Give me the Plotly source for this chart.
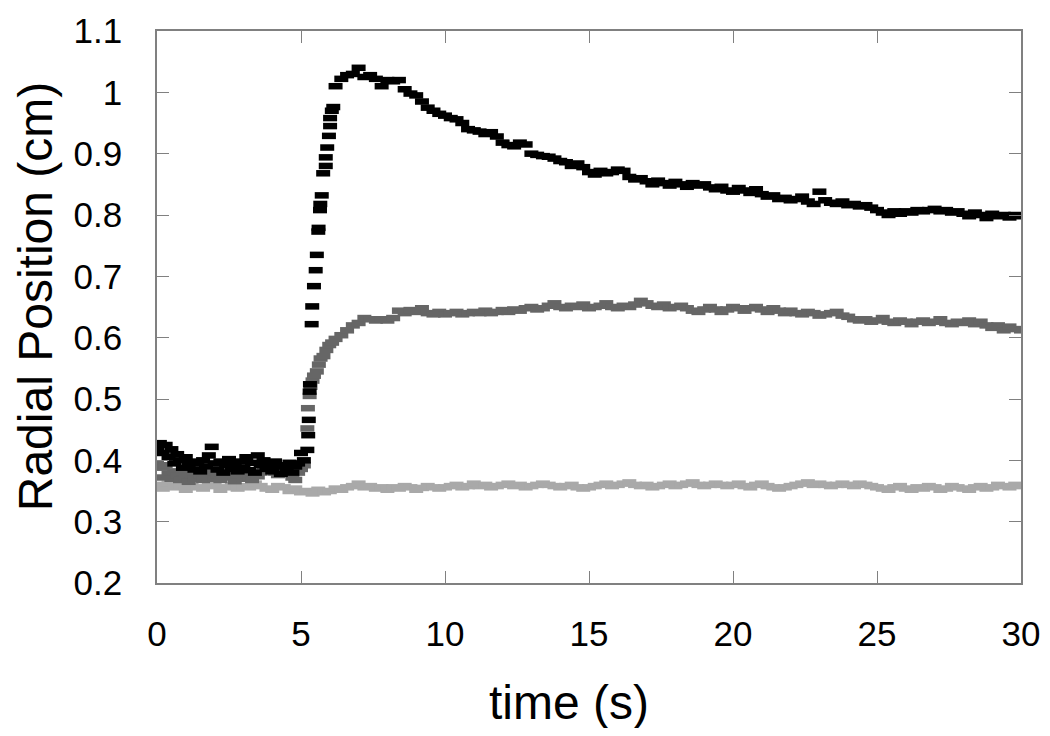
import numpy as np
import plotly.graph_objects as go

# ---------------- data ----------------
# Black series
black_pre_start, black_pre_step = 0.0, 0.1
black_pre = [0.420, 0.428, 0.412, 0.425, 0.405, 0.418, 0.395, 0.410, 0.400, 0.388,
             0.405, 0.392, 0.398, 0.385, 0.395, 0.382, 0.400, 0.390, 0.408, 0.422,
             0.395, 0.385, 0.398, 0.380, 0.392, 0.402, 0.386, 0.395, 0.382, 0.398,
             0.388, 0.405, 0.384, 0.396, 0.380, 0.408, 0.392, 0.400, 0.386, 0.395,
             0.382, 0.398, 0.390, 0.378, 0.392, 0.384, 0.396, 0.380, 0.390, 0.395,
             0.412, 0.400]
black_rise_t = [5.22, 5.25, 5.27, 5.30, 5.31, 5.37, 5.39, 5.45, 5.51, 5.55, 5.60, 5.61,
                5.66, 5.67, 5.72, 5.77, 5.86, 5.86, 5.91, 5.97, 6.01, 6.01, 6.07, 6.12]
black_rise = [0.417, 0.441, 0.466, 0.512, 0.524, 0.622, 0.651, 0.684, 0.710, 0.735, 0.773, 0.779,
              0.808, 0.818, 0.832, 0.868, 0.880, 0.894, 0.910, 0.929, 0.945, 0.958, 0.970, 0.976]
black_post_start, black_post_step = 6.2, 0.2
black_post = [1.010, 1.022, 1.028, 1.030, 1.040, 1.025, 1.028, 1.022, 1.010, 1.020,
              1.018, 1.020, 1.005, 0.998, 0.995, 0.985, 0.975, 0.970, 0.965, 0.962,
              0.958, 0.956, 0.950, 0.940, 0.938, 0.936, 0.932, 0.935, 0.928, 0.918,
              0.914, 0.912, 0.918, 0.915, 0.900, 0.898, 0.896, 0.895, 0.892, 0.888,
              0.886, 0.880, 0.884, 0.878, 0.870, 0.866, 0.872, 0.868, 0.870, 0.874,
              0.872, 0.862, 0.858, 0.860, 0.855, 0.850, 0.856, 0.852, 0.848, 0.854,
              0.850, 0.846, 0.852, 0.848, 0.850, 0.845, 0.842, 0.846, 0.840, 0.838,
              0.844, 0.840, 0.836, 0.842, 0.834, 0.830, 0.832, 0.826, 0.828, 0.824,
              0.826, 0.830, 0.822, 0.818, 0.838, 0.824, 0.820, 0.818, 0.822, 0.816,
              0.818, 0.814, 0.816, 0.812, 0.808, 0.804, 0.800, 0.806, 0.802, 0.806,
              0.804, 0.808, 0.806, 0.808, 0.810, 0.806, 0.808, 0.804, 0.806, 0.802,
              0.798, 0.804, 0.800, 0.795, 0.802, 0.798, 0.800, 0.796, 0.800, 0.798]

# Dark gray series
dgray_pre_start, dgray_pre_step = 0.0, 0.1
dgray_pre = [0.395, 0.372, 0.388, 0.392, 0.378, 0.370, 0.382, 0.375, 0.368, 0.380,
             0.372, 0.365, 0.378, 0.370, 0.382, 0.375, 0.368, 0.378, 0.372, 0.380,
             0.370, 0.376, 0.368, 0.374, 0.380, 0.372, 0.378, 0.366, 0.375, 0.382,
             0.370, 0.376, 0.372, 0.368, 0.378, 0.374, 0.380, 0.386, 0.390, 0.384,
             0.388, 0.380, 0.376, 0.384, 0.390, 0.378, 0.385, 0.372, 0.368, 0.380,
             0.386, 0.392]
dgray_rise_t = [5.22, 5.24, 5.30, 5.33, 5.40, 5.45, 5.55, 5.62, 5.68, 5.78, 5.88, 5.98, 6.08, 6.20]
dgray_rise = [0.452, 0.485, 0.505, 0.520, 0.530, 0.538, 0.545, 0.556, 0.566, 0.570, 0.580, 0.588, 0.592, 0.598]
dgray_post_start, dgray_post_step = 6.4, 0.2
dgray_post = [0.604, 0.612, 0.620, 0.624, 0.632, 0.630, 0.628, 0.630, 0.628, 0.632,
              0.644, 0.640, 0.645, 0.642, 0.648, 0.640, 0.638, 0.642, 0.638, 0.640,
              0.642, 0.638, 0.640, 0.642, 0.640, 0.644, 0.640, 0.642, 0.645, 0.642,
              0.646, 0.644, 0.648, 0.650, 0.646, 0.648, 0.652, 0.656, 0.650, 0.648,
              0.652, 0.650, 0.654, 0.648, 0.650, 0.652, 0.656, 0.650, 0.648, 0.652,
              0.650, 0.654, 0.660, 0.656, 0.652, 0.650, 0.654, 0.648, 0.650, 0.652,
              0.648, 0.644, 0.642, 0.646, 0.650, 0.646, 0.642, 0.646, 0.650, 0.648,
              0.644, 0.648, 0.650, 0.646, 0.642, 0.648, 0.644, 0.640, 0.644, 0.640,
              0.638, 0.642, 0.640, 0.636, 0.638, 0.640, 0.642, 0.636, 0.634, 0.630,
              0.628, 0.630, 0.626, 0.628, 0.632, 0.626, 0.624, 0.628, 0.626, 0.622,
              0.626, 0.628, 0.624, 0.626, 0.630, 0.624, 0.622, 0.626, 0.624, 0.628,
              0.622, 0.626, 0.620, 0.616, 0.620, 0.612, 0.618, 0.614, 0.612]

# Light gray series
lgray_start, lgray_step = 0.0, 0.2
lgray = [0.360, 0.354, 0.362, 0.356, 0.358, 0.352, 0.360, 0.356, 0.354, 0.360,
         0.358, 0.352, 0.356, 0.360, 0.354, 0.358, 0.356, 0.362, 0.358, 0.354,
         0.352, 0.358, 0.356, 0.350, 0.354,
         0.348, 0.350, 0.346, 0.352, 0.348, 0.350, 0.354, 0.352, 0.356, 0.358,
         0.362, 0.356, 0.358, 0.354, 0.356, 0.352, 0.356, 0.354, 0.358, 0.356,
         0.352, 0.355, 0.358, 0.356, 0.354,
         0.356, 0.358, 0.360, 0.356, 0.358, 0.362, 0.358, 0.360, 0.356, 0.358,
         0.360, 0.362, 0.358, 0.360, 0.356, 0.358, 0.360, 0.362, 0.360, 0.358,
         0.356, 0.358, 0.360, 0.356, 0.354,
         0.356, 0.358, 0.360, 0.362, 0.358, 0.360, 0.362, 0.364, 0.360, 0.358,
         0.360, 0.356, 0.358, 0.360, 0.362, 0.358, 0.360, 0.362, 0.364, 0.360,
         0.358, 0.360, 0.362, 0.360, 0.358,
         0.360, 0.362, 0.358, 0.356, 0.360, 0.362, 0.358, 0.356, 0.354, 0.356,
         0.358, 0.360, 0.362, 0.364, 0.360, 0.362, 0.360, 0.358, 0.360, 0.362,
         0.360, 0.358, 0.362, 0.360, 0.358,
         0.356, 0.354, 0.352, 0.356, 0.358, 0.354, 0.352, 0.356, 0.354, 0.358,
         0.356, 0.352, 0.354, 0.358, 0.356, 0.354, 0.352, 0.356, 0.358, 0.354,
         0.356, 0.360, 0.358, 0.356, 0.360, 0.358]

x_ticks = [0, 5, 10, 15, 20, 25, 30]
y_ticks = [0.2, 0.3, 0.4, 0.5, 0.6, 0.7, 0.8, 0.9, 1.0, 1.1]
y_tick_labels = ["0.2", "0.3", "0.4", "0.5", "0.6", "0.7", "0.8", "0.9", "1", "1.1"]
x_title = "time (s)"
y_title = "Radial Position (cm)"


def times(start, step, vals):
    return list(np.round(start + step * np.arange(len(vals)), 3))


series = [
    ("light gray", "#a9a9a9",
     times(lgray_start, lgray_step, lgray), lgray),
    ("dark gray", "#666666",
     times(dgray_pre_start, dgray_pre_step, dgray_pre) + dgray_rise_t
     + times(dgray_post_start, dgray_post_step, dgray_post),
     dgray_pre + dgray_rise + dgray_post),
    ("black", "#000000",
     times(black_pre_start, black_pre_step, black_pre) + black_rise_t
     + times(black_post_start, black_post_step, black_post),
     black_pre + black_rise + black_post),
]

fig = go.Figure()
for name, color, xs, ys in series:
    fig.add_trace(go.Scatter(
        x=xs, y=ys, mode="markers", name=name,
        marker=dict(symbol="line-ew", size=10, color=color,
                    line=dict(width=6.5, color=color)),
        showlegend=False, hoverinfo="skip"))

FONT = "Liberation Sans, Arial, Helvetica, sans-serif"
axis_common = dict(
    showline=True, linecolor="#808080", linewidth=1.5, mirror="ticks",
    ticks="inside", ticklen=12, tickwidth=1.2, tickcolor="#808080",
    showgrid=False, zeroline=False, automargin=False,
    tickfont=dict(family=FONT, size=35, color="#000"),
)

# the page body adds an 8px offset, so the figure is 16px smaller than the window
fig.update_layout(
    width=1034, height=720,
    margin=dict(l=149, r=21, t=23, b=145),
    paper_bgcolor="white", plot_bgcolor="white",
    xaxis=dict(range=[0, 30], tickvals=x_ticks, ticklabelstandoff=19, **axis_common),
    yaxis=dict(range=[0.2, 1.1], tickvals=y_ticks, ticktext=y_tick_labels,
               ticklabelstandoff=26, **axis_common),
    annotations=[
        dict(text=x_title, xref="paper", yref="paper", x=0.477, y=-0.217,
             xanchor="center", yanchor="middle", showarrow=False,
             font=dict(family=FONT, size=48, color="#000")),
        dict(text=y_title, xref="paper", yref="paper", x=-0.141, y=0.518,
             xanchor="center", yanchor="middle", showarrow=False, textangle=-90,
             font=dict(family=FONT, size=48, color="#000")),
    ],
)

fig.write_html("out.html")
